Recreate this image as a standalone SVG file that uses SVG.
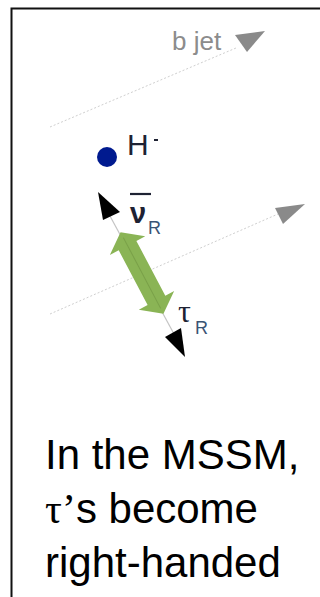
<svg xmlns="http://www.w3.org/2000/svg" width="320" height="597" viewBox="0 0 320 597">
  <style>
    .dot { stroke: #cfcfcf; stroke-width: 1; stroke-dasharray: 2 2; fill: none; }
    .axis { stroke: #c4c4c4; stroke-width: 1.2; fill: none; }
    .gtri { fill: #8a8a8a; }
    .btri { fill: #000; }
    .lbl { font-family: "Liberation Sans", Arial, sans-serif; fill: #1e2233; }
    .sub { font-family: "Liberation Sans", Arial, sans-serif; fill: #3a5474; font-size: 18px; }
    .big { font-family: "Liberation Sans", Arial, sans-serif; font-size: 42px; fill: #000; }
  </style>
  <rect x="0" y="0" width="320" height="597" fill="#fff"/>
  <g id="frame">
    <path d="M11.5 597 V8.5 H320" fill="none" stroke="#111" stroke-width="2"/>
  </g>
  <g id="connectors">
    <line class="dot" x1="50" y1="127" x2="236" y2="48"/>
    <line class="dot" x1="50" y1="314" x2="278" y2="214"/>
    <line class="axis" x1="104" y1="205" x2="180" y2="345"/>
    <polygon class="btri" points="98,192 120,212 103,220"/>
    <polygon class="btri" points="165,337 181,328 185,357"/>
    <polygon class="gtri" points="235,35 265,31 247,52"/>
    <polygon class="gtri" points="275,208 305,204 283,224"/>
  </g>
  <g id="spin" transform="translate(142 273) rotate(62.2)">
    <polygon fill="#8ab455" points="-46,0 -31,-20 -31,-10 31,-10 31,-20 46,0 31,20 31,10 -31,10 -31,20"/>
    <line x1="-40" y1="0" x2="40" y2="0" stroke="#6f9440" stroke-width="1" opacity="0.6"/>
  </g>
  <g id="bjet">
    <text x="172" y="50" font-size="26" style="font-family:'Liberation Sans',Arial,sans-serif;fill:#8c8c8c">b jet</text>
  </g>
  <g id="higgs">
    <circle cx="107" cy="157" r="10" fill="#001a8f"/>
    <text class="lbl" x="127" y="155" font-size="30">H</text>
    <rect x="154" y="139" width="4" height="2" fill="#1e2233"/>
  </g>
  <g id="nu">
    <line x1="130" y1="194" x2="151" y2="194" stroke="#1e2233" stroke-width="2.2"/>
    <text class="lbl" x="130" y="223" font-size="29" font-weight="bold">ν</text>
    <text class="sub" x="148" y="234">R</text>
  </g>
  <g id="tau">
    <text class="lbl" x="178" y="322" font-size="32" style="font-family:'Liberation Serif',serif">τ</text>
    <text class="sub" x="195" y="334">R</text>
  </g>
  <g id="caption">
    <text class="big" x="45" y="469">In the MSSM,</text>
    <text class="big" x="45" y="523"><tspan style="font-family:'Liberation Serif',serif">τ’</tspan>s become</text>
    <text class="big" x="45" y="577">right-handed</text>
  </g>
</svg>
